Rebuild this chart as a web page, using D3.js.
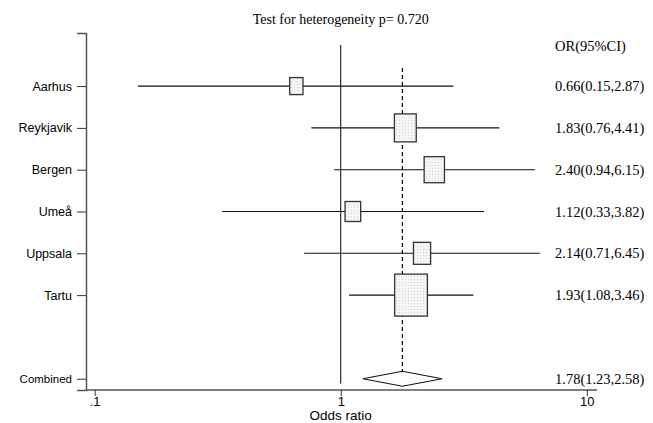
<!DOCTYPE html>
<html>
<head>
    <meta charset="utf-8">
    <script src="https://d3js.org/d3.v7.min.js" charset="utf-8"></script>
    <style type="text/css">
        body { margin: 0; background: #fff; }
        .lab { font-family: "Liberation Sans", Arial, sans-serif; font-size: 12px; fill: #000; }
        .ser { font-family: "Liberation Serif", "Times New Roman", serif; font-size: 14.5px; fill: #000; }
    </style>
</head>
<body>

<svg height="423" width="653"></svg>

<script>
    // study data
    var studies = ["Aarhus", "Reykjavik", "Bergen", "Umeå", "Uppsala", "Tartu"];
    var or = [0.66, 1.83, 2.40, 1.12, 2.14, 1.93];
    var lower = [0.15, 0.76, 0.94, 0.33, 0.71, 1.08];
    var upper = [2.87, 4.41, 6.15, 3.82, 6.45, 3.46];
    var weight = [6.6, 17.8, 15.4, 9.1, 11.0, 40.1];   // % weight -> box area

    var combined = {label: "Combined", or: 1.78, lower: 1.23, upper: 2.58};
    var title = "Test for heterogeneity p= 0.720";
    var xTicks = [0.1, 1, 10];
    var xTickLabels = [".1", "1", "10"];

    var svg = d3.select("svg");

    var x = d3.scaleLog().domain([0.0922, 11.0]).range([86, 597]);
    // rows 1..6 are studies, row 8 is the combined estimate
    var y = d3.scaleLinear().domain([-0.27, 8.27]).range([33, 390]);
    var box = d3.scaleSqrt().domain([0, 40.1]).range([0, 42]);

    var rows = studies.map(function(s, i) {
        return {name: s, or: or[i], lo: lower[i], hi: upper[i], w: weight[i], row: i + 1,
                txt: or[i].toFixed(2) + "(" + lower[i].toFixed(2) + "," + upper[i].toFixed(2) + ")"};
    });
    var combRow = 8;

    // dotted fill for boxes
    var pat = svg.append("defs").append("pattern")
        .attr("id", "dots").attr("width", 3).attr("height", 3)
        .attr("patternUnits", "userSpaceOnUse");
    pat.append("rect").attr("width", 3).attr("height", 3).attr("fill", "#f6f6f6");
    pat.append("rect").attr("width", 1).attr("height", 1).attr("fill", "#d4d4d4");

    // title
    svg.append("text")
        .attr("class", "ser")
        .attr("x", x(1))
        .attr("y", 24)
        .attr("text-anchor", "middle")
        .style("font-size", "14px")
        .text(title);

    // column header
    svg.append("text")
        .attr("class", "ser")
        .attr("x", 555)
        .attr("y", y(0.05))
        .attr("dy", "0.35em")
        .text("OR(95%CI)");

    // left axis
    var yAxis = d3.axisLeft(y)
        .tickValues(rows.map(function(d) { return d.row; }).concat([combRow]))
        .tickSize(9)
        .tickPadding(5)
        .tickFormat(function(v) { return v === combRow ? combined.label : studies[v - 1]; });
    var ya = svg.append("g")
        .attr("transform", "translate(" + x.range()[0] + ",0)")
        .call(yAxis);
    ya.select(".domain").attr("stroke", "#555").attr("stroke-width", 1.5);
    ya.selectAll(".tick line").attr("stroke", "#333");
    ya.selectAll(".tick text").attr("class", "lab").attr("font-family", null).attr("font-size", null)
        .style("font-size", "12.5px");
    ya.selectAll(".tick").filter(function(v) { return v === combRow; })
        .select("text").style("font-size", "11.5px");

    // bottom axis
    var xAxis = d3.axisBottom(x)
        .tickValues(xTicks)
        .tickSize(6)
        .tickPadding(1)
        .tickFormat(function(v, i) { return xTickLabels[i]; });
    var xa = svg.append("g")
        .attr("transform", "translate(0," + y.range()[1] + ")")
        .call(xAxis);
    xa.select(".domain").attr("stroke", "#555").attr("stroke-width", 1.5).attr("d", "M" + x.range()[0] + ",0H" + x.range()[1]);
    xa.selectAll(".tick line").attr("stroke", "#333");
    xa.selectAll(".tick text").attr("class", "lab").attr("font-family", null).attr("font-size", null)
        .style("font-size", "13px");

    svg.append("text")
        .attr("class", "lab")
        .attr("x", x(1))
        .attr("y", 420)
        .attr("text-anchor", "middle")
        .style("font-size", "13.5px")
        .text("Odds ratio");

    // null line at OR = 1
    svg.append("line")
        .attr("x1", x(1)).attr("x2", x(1))
        .attr("y1", 45).attr("y2", y(combRow) + 5)
        .attr("stroke", "#000").attr("stroke-width", 1);

    // pooled estimate dashed line
    svg.append("line")
        .attr("x1", x(combined.or)).attr("x2", x(combined.or))
        .attr("y1", 68).attr("y2", y(combRow) - 7.5)
        .attr("stroke", "#000").attr("stroke-width", 1.2)
        .attr("stroke-dasharray", "4,3");

    var g = svg.append("g");

    // confidence intervals
    g.selectAll(".ci")
        .data(rows)
        .enter()
        .append("line")
        .attr("class", "ci")
        .attr("x1", function(d) { return x(d.lo); })
        .attr("x2", function(d) { return x(d.hi); })
        .attr("y1", function(d) { return y(d.row); })
        .attr("y2", function(d) { return y(d.row); })
        .attr("stroke", "#111").attr("stroke-width", 1.1);

    // weighted boxes
    var aspect = 0.78;
    g.selectAll(".box")
        .data(rows)
        .enter()
        .append("rect")
        .attr("class", "box")
        .attr("x", function(d) { return x(d.or) - box(d.w) * aspect / 2; })
        .attr("y", function(d) { return y(d.row) - box(d.w) / 2; })
        .attr("width", function(d) { return box(d.w) * aspect; })
        .attr("height", function(d) { return box(d.w); })
        .attr("fill", "url(#dots)")
        .attr("stroke", "#333").attr("stroke-width", 1.3);

    // right column text
    g.selectAll(".ortxt")
        .data(rows)
        .enter()
        .append("text")
        .attr("class", "ser")
        .attr("x", 555)
        .attr("y", function(d) { return y(d.row); })
        .attr("dy", "0.35em")
        .text(function(d) { return d.txt; });

    // combined diamond
    var cy = y(combRow);
    svg.append("path")
        .attr("d", "M" + x(combined.lower) + "," + cy +
                   "L" + x(combined.or) + "," + (cy - 7.5) +
                   "L" + x(combined.upper) + "," + cy +
                   "L" + x(combined.or) + "," + (cy + 7.5) + "Z")
        .attr("fill", "#fff").attr("stroke", "#111").attr("stroke-width", 1.1);

    svg.append("text")
        .attr("class", "ser")
        .attr("x", 555)
        .attr("y", cy)
        .attr("dy", "0.35em")
        .text(combined.or.toFixed(2) + "(" + combined.lower.toFixed(2) + "," + combined.upper.toFixed(2) + ")");
</script>
</body>
</html>
